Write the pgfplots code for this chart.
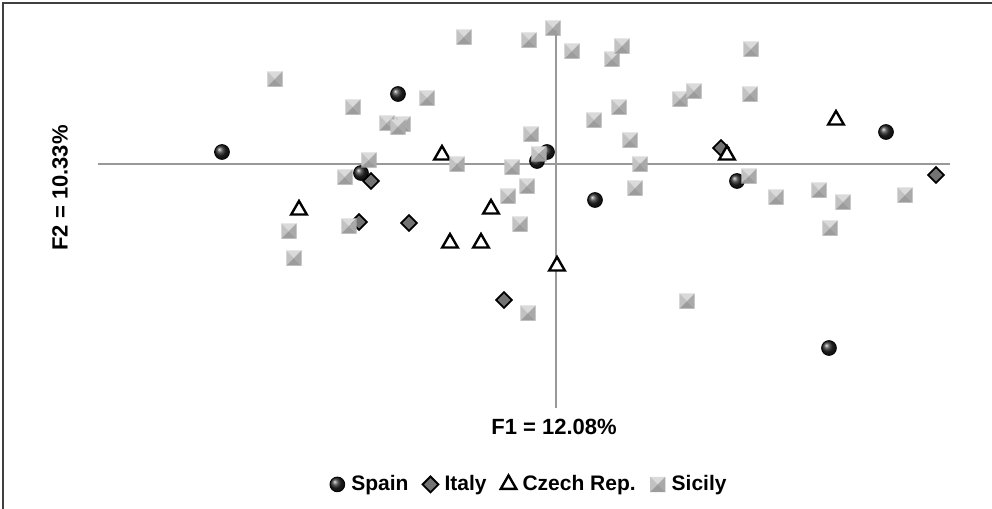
\documentclass[border=0pt]{standalone}
\usepackage{fontspec}
\setmainfont{Liberation Sans}
\usepackage{pgfplots}
\pgfplotsset{compat=1.18}
\definecolor{sqtop}{HTML}{DADADA}
\definecolor{sqleft}{HTML}{C2C2C2}
\definecolor{sqright}{HTML}{A9A9A9}
\definecolor{sqbot}{HTML}{9C9C9C}
\pgfdeclareplotmark{pyr}{%
  \pgfsetfillcolor{sqtop}%
  \pgfpathmoveto{\pgfqpoint{-\pgfplotmarksize}{\pgfplotmarksize}}%
  \pgfpathlineto{\pgfqpoint{\pgfplotmarksize}{\pgfplotmarksize}}%
  \pgfpathlineto{\pgfpointorigin}\pgfpathclose\pgfusepath{fill}%
  \pgfsetfillcolor{sqleft}%
  \pgfpathmoveto{\pgfqpoint{-\pgfplotmarksize}{\pgfplotmarksize}}%
  \pgfpathlineto{\pgfqpoint{-\pgfplotmarksize}{-\pgfplotmarksize}}%
  \pgfpathlineto{\pgfpointorigin}\pgfpathclose\pgfusepath{fill}%
  \pgfsetfillcolor{sqright}%
  \pgfpathmoveto{\pgfqpoint{\pgfplotmarksize}{\pgfplotmarksize}}%
  \pgfpathlineto{\pgfqpoint{\pgfplotmarksize}{-\pgfplotmarksize}}%
  \pgfpathlineto{\pgfpointorigin}\pgfpathclose\pgfusepath{fill}%
  \pgfsetfillcolor{sqbot}%
  \pgfpathmoveto{\pgfqpoint{-\pgfplotmarksize}{-\pgfplotmarksize}}%
  \pgfpathlineto{\pgfqpoint{\pgfplotmarksize}{-\pgfplotmarksize}}%
  \pgfpathlineto{\pgfpointorigin}\pgfpathclose\pgfusepath{fill}%
}
\pgfplotstableread{
x y
-334 12
-158 70
-195 -9
-9 12
-19 3
39 -36
181 -17
330 32
273 -184
}\spain
\pgfplotstableread{
x y
-185 -17
-197 -58
-147 -59
-52 -136
165 16
380 -11
}\italy
\pgfplotstableread{
x y
-257 -46
-114 9
-65 -45
-106 -79
-75 -79
1 -102
171 9
280 44
}\czech
\pgfplotstableread{
x y
-92 127
-281 85
-203 57
-129 66
-169 41
-153 40
-158 37
-187 4
-99 0
-211 -13
-207 -62
-267 -67
-262 -94
-25 30
-17 10
-44 -3
-29 -22
-48 -32
-36 -60
-28 -149
-3 136
-27 124
16 113
56 105
66 118
195 115
124 65
138 73
194 70
63 57
38 44
74 24
84 0
79 -24
193 -12
220 -33
263 -26
287 -38
274 -64
349 -31
131 -137
}\sicily
\begin{document}
\begin{tikzpicture}
\begin{axis}[
  x=0.5pt, y=0.5pt,
  xmin=-458, xmax=394, ymin=-244, ymax=140,
  axis lines=middle,
  axis line style={-, color=black!40, line width=0.75pt},
  xtick=\empty, ytick=\empty,
  clip=false,
  font=\bfseries,
  legend columns=4,
  legend style={at={(axis description cs:0.507,-0.199)}, anchor=center, draw=none, fill=none,
    font=\fontsize{10.5}{12}\selectfont\bfseries, inner sep=0pt,
    /tikz/every even column/.append style={column sep=5pt},
    /tikz/every odd column/.append style={column sep=0pt}},
  legend image code/.code={\draw[#1] plot coordinates {(4pt,0pt)}; \path[draw=none, fill=none] (0pt,0pt) (9pt,0pt);},
  legend cell align=left,
]
\addplot[only marks, mark=ball, ball color=black!85, mark size=3.7pt] table {\spain};
\addlegendentry{Spain}
\addplot[only marks, mark=square*, mark options={rotate=45, fill=black!55, draw=black, line width=0.9pt}, mark size=2.8pt] table {\italy};
\addlegendentry{Italy}
\addplot[only marks, mark=triangle*, mark options={fill=white, draw=black, line width=1.2pt}, mark size=4.5pt] table {\czech};
\addlegendentry{Czech Rep.}
\addplot[only marks, mark=pyr, mark size=3.8pt] table {\sicily};
\addlegendentry{Sicily}
\node[font=\fontsize{11}{13}\selectfont\bfseries] at (axis cs:-2,-263) {F1 = 12.08\%};
\node[font=\fontsize{11}{13}\selectfont\bfseries, rotate=90] at (axis cs:-496,-24) {F2 = 10.33\%};
\draw[black!75, line width=0.75pt] (axis cs:436,161) -- (axis cs:-553,161) -- (axis cs:-553,-345);
\coordinate (tl) at (axis cs:-556,164);
\coordinate (br) at (axis cs:436,-345);
\end{axis}
\pgfresetboundingbox
\useasboundingbox (tl) rectangle (br);
\end{tikzpicture}
\end{document}
